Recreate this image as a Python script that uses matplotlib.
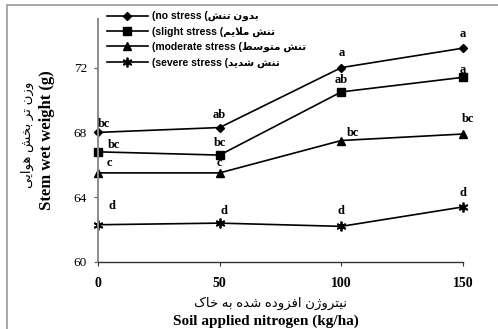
import matplotlib
matplotlib.use('Agg')
import matplotlib.pyplot as plt
from matplotlib.patches import Rectangle

# nitrogen rates (kg/ha)
nitrogen = [0, 50, 100, 150]

# stem wet weight (g) per stress level
no_stress = [68.0, 68.3, 72.0, 73.2]
slight_stress = [66.8, 66.6, 70.5, 71.4]
moderate_stress = [65.5, 65.5, 67.5, 67.9]
severe_stress = [62.3, 62.4, 62.2, 63.4]

# mean comparison letters
no_letters = ['bc', 'ab', 'a', 'a']
slight_letters = ['bc', 'bc', 'ab', 'a']
moderate_letters = ['c', 'c', 'bc', 'bc']
severe_letters = ['d', 'd', 'd', 'd']

# (english, persian) legend names
names = [
    ('no stress', 'بدون تنش'),
    ('slight stress', 'تنش ملایم'),
    ('moderate stress', 'تنش متوسط'),
    ('severe stress', 'تنش شدید'),
]
ylabel_en = 'Stem wet weight (g)'
ylabel_fa = 'وزن تر بخش هوایی'
xlabel_en = 'Soil applied nitrogen (kg/ha)'
xlabel_fa = 'نیتروژن افزوده شده به خاک'

# arabic presentation forms: isolated, final, initial, medial
FORMS = {
    'ا': ('\uFE8D', '\uFE8E', None, None),
    'ب': ('\uFE8F', '\uFE90', '\uFE91', '\uFE92'),
    'ت': ('\uFE95', '\uFE96', '\uFE97', '\uFE98'),
    'خ': ('\uFEA5', '\uFEA6', '\uFEA7', '\uFEA8'),
    'د': ('\uFEA9', '\uFEAA', None, None),
    'ر': ('\uFEAD', '\uFEAE', None, None),
    'ز': ('\uFEAF', '\uFEB0', None, None),
    'ژ': ('\uFB8A', '\uFB8B', None, None),
    'س': ('\uFEB1', '\uFEB2', '\uFEB3', '\uFEB4'),
    'ش': ('\uFEB5', '\uFEB6', '\uFEB7', '\uFEB8'),
    'ط': ('\uFEC1', '\uFEC2', '\uFEC3', '\uFEC4'),
    'ف': ('\uFED1', '\uFED2', '\uFED3', '\uFED4'),
    'ک': ('\uFB8E', '\uFB8F', '\uFB90', '\uFB91'),
    'ل': ('\uFEDD', '\uFEDE', '\uFEDF', '\uFEE0'),
    'م': ('\uFEE1', '\uFEE2', '\uFEE3', '\uFEE4'),
    'ن': ('\uFEE5', '\uFEE6', '\uFEE7', '\uFEE8'),
    'ه': ('\uFEE9', '\uFEEA', '\uFEEB', '\uFEEC'),
    'و': ('\uFEED', '\uFEEE', None, None),
    'ی': ('\uFBFC', '\uFBFD', '\uFBFE', '\uFBFF'),
}


def shape(text):
    """Join persian letters and return them in visual (left to right) order."""
    res = []
    i = 0
    n = len(text)
    while i < n:
        ch = text[i]
        if ch not in FORMS:
            res.append(ch)
            i += 1
            continue
        prev = text[i - 1] if i > 0 else ''
        linked_prev = prev in FORMS and FORMS[prev][2] is not None
        if ch == 'ل' and i + 1 < n and text[i + 1] == 'ا':
            res.append('\uFEFC' if linked_prev else '\uFEFB')
            i += 2
            continue
        nxt = text[i + 1] if i + 1 < n else ''
        iso, fin, ini, med = FORMS[ch]
        linked_next = ini is not None and nxt in FORMS
        if linked_prev and linked_next:
            res.append(med)
        elif linked_prev:
            res.append(fin)
        elif linked_next:
            res.append(ini)
        else:
            res.append(iso)
        i += 1
    return ''.join(reversed(res))


serif = ['Liberation Serif', 'DejaVu Serif']
sans = ['Liberation Sans', 'DejaVu Sans']

fig = plt.figure(figsize=(4.98, 3.29), dpi=100)
ax = fig.add_axes([98 / 498, 67 / 329, 365 / 498, 243 / 329])

# outer chart frame
fig.patches.append(Rectangle((7 / 498, -0.2), 1.2, 1.2 - 5 / 329, transform=fig.transFigure,
                             fill=False, edgecolor='#9a9a9a', linewidth=1.2))

series = [
    (no_stress, no_letters, dict(marker='D', markersize=4)),
    (slight_stress, slight_letters, dict(marker='s', markersize=5.5)),
    (moderate_stress, moderate_letters, dict(marker='^', markersize=6)),
    (severe_stress, severe_letters, dict(marker=(6, 2, 0), markersize=7, markeredgewidth=1.3)),
]
# letter offsets in pixels from each marker
offsets = [
    [(6, 8), (0, 13), (0, 15), (0, 14)],
    [(16, 7), (0, 12), (0, 12), (0, 7)],
    [(11, 10), (0, 10), (12, 7), (5, 15)],
    [(14, 19), (4, 12), (0, 15), (0, 14)],
]

for (vals, letters, mk), offs, (en, fa) in zip(series, offsets, names):
    ax.plot(nitrogen, vals, color='black', linewidth=1.2, clip_on=False,
            markerfacecolor='black', markeredgecolor='black',
            label='(' + en + ' (' + shape(fa), **mk)
    for x, v, lab, off in zip(nitrogen, vals, letters, offs):
        ax.annotate(lab, (x, v), xytext=off, textcoords='offset pixels',
                    ha='center', va='center', fontsize=9, fontweight='bold',
                    family=serif)

ax.set_xlim(0, 150)
ax.set_ylim(60, 75)
ax.set_xticks(nitrogen)
ax.set_yticks([60, 64, 68, 72])
ax.spines['top'].set_visible(False)
ax.spines['right'].set_visible(False)
ax.spines['left'].set_color('#8c8c8c')
ax.spines['left'].set_linewidth(1.4)
ax.spines['bottom'].set_color('#333333')
ax.spines['bottom'].set_linewidth(1.0)
ax.tick_params(axis='x', direction='out', length=3, pad=8, color='#333333')
ax.tick_params(axis='y', direction='out', length=3, pad=5, color='#555555')
for t in ax.get_xticklabels():
    t.set_family(serif)
    t.set_fontweight('bold')
    t.set_fontsize(10)
for t in ax.get_yticklabels():
    t.set_family(serif)
    t.set_fontsize(9.5)

leg = ax.legend(loc='upper left', bbox_to_anchor=(103 / 498, 1 - 7 / 329),
                bbox_transform=fig.transFigure, frameon=False, handlelength=3.9,
                handletextpad=0.4, labelspacing=0.5, borderaxespad=0,
                prop=dict(family=sans, weight='bold', size=7.5))

fig.text(47 / 498, 1 - 140 / 329, ylabel_en, rotation=90, ha='center', va='center',
         fontsize=12, fontweight='bold', family=serif)
fig.text(27 / 498, 1 - 135 / 329, shape(ylabel_fa), rotation=90, ha='center', va='center',
         fontsize=9.5, family=sans)
fig.text(270 / 498, 1 - 303 / 329, shape(xlabel_fa), ha='center', va='center',
         fontsize=9.5, family=sans)
fig.text(266 / 498, 1 - 321 / 329, xlabel_en, ha='center', va='center',
         fontsize=11, fontweight='bold', family=serif)

fig.savefig('out.png', dpi=100)
